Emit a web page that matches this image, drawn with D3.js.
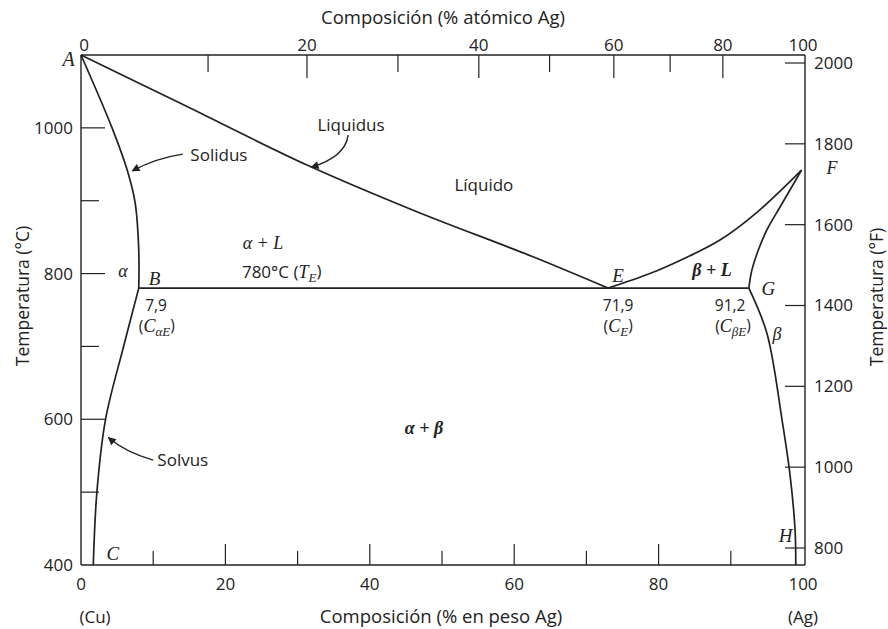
<!DOCTYPE html>
<html>
<head>
<meta charset="utf-8">
<script src="https://cdn.jsdelivr.net/npm/d3@7"></script>
<style>
  body { margin: 0; background: #fff; }
  text { font-family: "Open Sans", Lato, sans-serif; fill: #222; }
  .it { font-family: "Liberation Serif", "DejaVu Serif", serif; font-style: italic; }
</style>
</head>
<body>
<script>
var width = 888;
var height = 629;

// phase boundaries, [wt% Ag, °C]
var liquidusCu = [[0, 1100], [13.7, 1034], [31.3, 949], [46.0, 887], [62.6, 823], [73.0, 780]];
var solidusCu = [[0, 1100], [4.3, 1000], [6.4, 942], [7.5, 897], [8.0, 832], [8.0, 780]];
var solvusCu = [[8.0, 780], [5.9, 700], [3.4, 600], [2.2, 500], [1.7, 400]];
var liquidusAg = [[73.0, 780], [78.8, 800], [83.4, 820], [88.5, 846], [93.5, 883], [99.8, 942]];
var solidusAg = [[92.5, 780], [92.9, 804], [93.8, 832], [95.0, 860], [96.8, 891], [99.8, 942]];
var solvusAg = [[92.5, 780], [95.0, 718], [97.1, 599], [98.2, 524], [98.9, 448], [99.0, 400]];
var eutectic = [[8.0, 780], [92.5, 780]];

// axis ticks
var wtTicks = [0, 10, 20, 30, 40, 50, 60, 70, 80, 90, 100];
var wtLabels = [0, 20, 40, 60, 80, 100];
var celsiusTicks = [400, 500, 600, 700, 800, 900, 1000];
var celsiusLabels = [400, 600, 800, 1000];
var fahrenheitTicks = [800, 1000, 1200, 1400, 1600, 1800, 2000];
// top axis: atomic % and where each tick sits in wt%
var atomicTicks = [0, 10, 20, 30, 40, 50, 60, 70, 80, 100];
var atomicAsWt = [0, 17.6, 31.3, 43.9, 55.1, 64.9, 73.8, 81.6, 88.9, 100];
var atomicLabels = [0, 20, 40, 60, 80, 100];

var x = d3.scaleLinear().domain([0, 100]).range([81, 803]);
var y = d3.scaleLinear().domain([400, 1100]).range([565, 55]);
var yF = d3.scaleLinear().domain([800, 2000]).range([548, 63]);
var xAt = d3.scaleLinear().domain(atomicTicks).range(atomicAsWt.map(function(d) { return x(d); }));

var svg = d3.select("body").append("svg")
    .attr("width", width)
    .attr("height", height);

var ink = "#222";

// frame
var frame = svg.append("g").attr("stroke", ink).attr("stroke-width", 1.4).attr("fill", "none");
frame.append("line").attr("x1", x(0)).attr("x2", x(100) + 2).attr("y1", y(400)).attr("y2", y(400));
frame.append("line").attr("x1", x(0)).attr("x2", x(100) + 2).attr("y1", y(1100)).attr("y2", y(1100));
frame.append("line").attr("x1", x(0)).attr("x2", x(0)).attr("y1", y(400)).attr("y2", y(1100));
frame.append("line").attr("x1", x(100) + 2).attr("x2", x(100) + 2).attr("y1", y(400)).attr("y2", y(1100));

// bottom ticks (inward)
svg.selectAll(".bt").data(wtTicks.slice(1, -1)).enter().append("line")
    .attr("stroke", ink).attr("stroke-width", 1.2)
    .attr("x1", function(d) { return x(d); }).attr("x2", function(d) { return x(d); })
    .attr("y1", y(400))
    .attr("y2", function(d) { return y(400) - (d % 20 == 0 ? 21 : 14); });
svg.selectAll(".bl").data(wtLabels).enter().append("text")
    .attr("x", function(d) { return x(d); }).attr("y", 590)
    .attr("text-anchor", "middle").attr("font-size", 17)
    .text(function(d) { return d; });

// top ticks (inward)
svg.selectAll(".tt").data(atomicTicks.slice(1, -1)).enter().append("line")
    .attr("stroke", ink).attr("stroke-width", 1.2)
    .attr("x1", function(d) { return xAt(d); }).attr("x2", function(d) { return xAt(d); })
    .attr("y1", y(1100))
    .attr("y2", function(d) { return y(1100) + (d % 20 == 0 ? 23 : 17); });
svg.selectAll(".tl").data(atomicLabels).enter().append("text")
    .attr("x", function(d) { return xAt(d) + (d == 0 ? 3 : 0); }).attr("y", 51)
    .attr("text-anchor", "middle").attr("font-size", 17)
    .text(function(d) { return d; });

// left ticks
svg.selectAll(".lt").data(celsiusTicks.slice(1)).enter().append("line")
    .attr("stroke", ink).attr("stroke-width", 1.2)
    .attr("x1", x(0))
    .attr("x2", function(d) { return x(0) + (d % 200 == 0 ? 24 : 18); })
    .attr("y1", function(d) { return y(d); }).attr("y2", function(d) { return y(d); });
svg.selectAll(".ll").data(celsiusLabels).enter().append("text")
    .attr("x", 73).attr("y", function(d) { return y(d); })
    .attr("dy", "0.35em")
    .attr("text-anchor", "end").attr("font-size", 17)
    .text(function(d) { return d; });

// right ticks (°F)
svg.selectAll(".rt").data(fahrenheitTicks).enter().append("line")
    .attr("stroke", ink).attr("stroke-width", 1.2)
    .attr("x1", x(100) + 2).attr("x2", x(100) - 18)
    .attr("y1", function(d) { return yF(d); }).attr("y2", function(d) { return yF(d); });
svg.selectAll(".rl").data(fahrenheitTicks).enter().append("text")
    .attr("x", 814).attr("y", function(d) { return yF(d); })
    .attr("dy", "0.35em").attr("font-size", 17)
    .text(function(d) { return d; });

// axis titles
svg.append("text").attr("x", 443).attr("y", 24).attr("text-anchor", "middle")
    .attr("font-size", 18.5).text("Composición (% atómico Ag)");
svg.append("text").attr("x", 441).attr("y", 623).attr("text-anchor", "middle")
    .attr("font-size", 18.5).text("Composición (% en peso Ag)");
svg.append("text").attr("x", x(0) + 14).attr("y", 623).attr("text-anchor", "middle")
    .attr("font-size", 17).text("(Cu)");
svg.append("text").attr("x", x(100)).attr("y", 623).attr("text-anchor", "middle")
    .attr("font-size", 17).text("(Ag)");
svg.append("text").attr("transform", "translate(23,296) rotate(-90)")
    .attr("dy", "0.35em").attr("text-anchor", "middle")
    .attr("font-size", 17.5).text("Temperatura (°C)");
svg.append("text").attr("transform", "translate(877,297) rotate(-90)")
    .attr("dy", "0.35em").attr("text-anchor", "middle")
    .attr("font-size", 17.5).text("Temperatura (°F)");

// phase boundaries
var curve = d3.line()
    .x(function(d) { return x(d[0]); })
    .y(function(d) { return y(d[1]); })
    .curve(d3.curveCatmullRom.alpha(0.5));

svg.selectAll(".boundary")
    .data([liquidusCu, solidusCu, solvusCu, liquidusAg, solidusAg, solvusAg, eutectic])
    .enter().append("path")
    .attr("class", "boundary")
    .attr("d", curve)
    .attr("fill", "none")
    .attr("stroke", ink)
    .attr("stroke-width", 1.7);

// arrows to the curves
svg.append("defs").append("marker")
    .attr("id", "head")
    .attr("viewBox", "0 0 10 10")
    .attr("refX", 9).attr("refY", 5)
    .attr("markerWidth", 13).attr("markerHeight", 8)
    .attr("markerUnits", "userSpaceOnUse")
    .attr("orient", "auto")
    .append("path").attr("d", "M0,0L10,5L0,10z").attr("fill", ink);

var arrows = [
  [[14.1, 964], [10.4, 958.6], [7.1, 941]],
  [[37.0, 990], [36.6, 960], [31.9, 946]],
  [[10.0, 544], [6.1, 555], [3.8, 575]]
];
svg.selectAll(".arrow").data(arrows).enter().append("path")
    .attr("d", function(d) {
      var p = d3.path();
      p.moveTo(x(d[0][0]), y(d[0][1]));
      p.quadraticCurveTo(x(d[1][0]), y(d[1][1]), x(d[2][0]), y(d[2][1]));
      return p.toString();
    })
    .attr("fill", "none").attr("stroke", ink).attr("stroke-width", 1.4)
    .attr("marker-end", "url(#head)");

// region and point labels
function label(txt, wt, t, cls, size, anchor) {
  return svg.append("text")
      .attr("class", cls || null)
      .attr("x", x(wt)).attr("y", y(t))
      .attr("dy", "0.35em")
      .attr("text-anchor", anchor || "middle")
      .attr("font-size", size || 17)
      .text(txt);
}

label("Líquido", 55.8, 921.6);
label("Liquidus", 37.4, 1004);
label("Solidus", 19.1, 962.7);
label("Solvus", 14.1, 544);
label("α + L", 25.2, 843, "it", 18);
label("β + L", 87.4, 805, "it", 18).attr("font-weight", "bold");
label("α + β", 47.5, 589, "it", 18).attr("font-weight", "bold");
label("α", 5.8, 803.5, "it", 18);
label("β", 96.4, 718, "it", 18);
label("A", -1.7, 1094, "it", 20);
label("B", 10.2, 794, "it", 19);
label("C", 4.4, 416.5, "it", 19);
label("E", 74.4, 798, "it", 19);
label("F", 104, 946, "it", 18);
label("G", 95.2, 780, "it", 19);
label("H", 97.6, 441, "it", 19);
label("7,9", 10.4, 756, null, 15.5);
label("71,9", 74.4, 756, null, 15.5);
label("91,2", 89.9, 756, null, 15.5);

// 780°C (T_E)
var te = label("780°C (", 27.8, 802);
te.append("tspan").attr("class", "it").attr("font-size", 18).text("T");
te.append("tspan").attr("class", "it").attr("font-size", 13).attr("dy", "0.3em").text("E");
te.append("tspan").attr("dy", "-0.3em").text(")");

// (C_αE), (C_E), (C_βE)
[["αE", 10.5], ["E", 74.4], ["βE", 90.3]].forEach(function(c) {
  var t = label("(", c[1], 727, null, 15.5);
  t.append("tspan").attr("class", "it").attr("font-size", 18).text("C");
  t.append("tspan").attr("class", "it").attr("font-size", 13).attr("dy", "0.3em").text(c[0]);
  t.append("tspan").attr("dy", "-0.3em").text(")");
});
</script>
</body>
</html>
